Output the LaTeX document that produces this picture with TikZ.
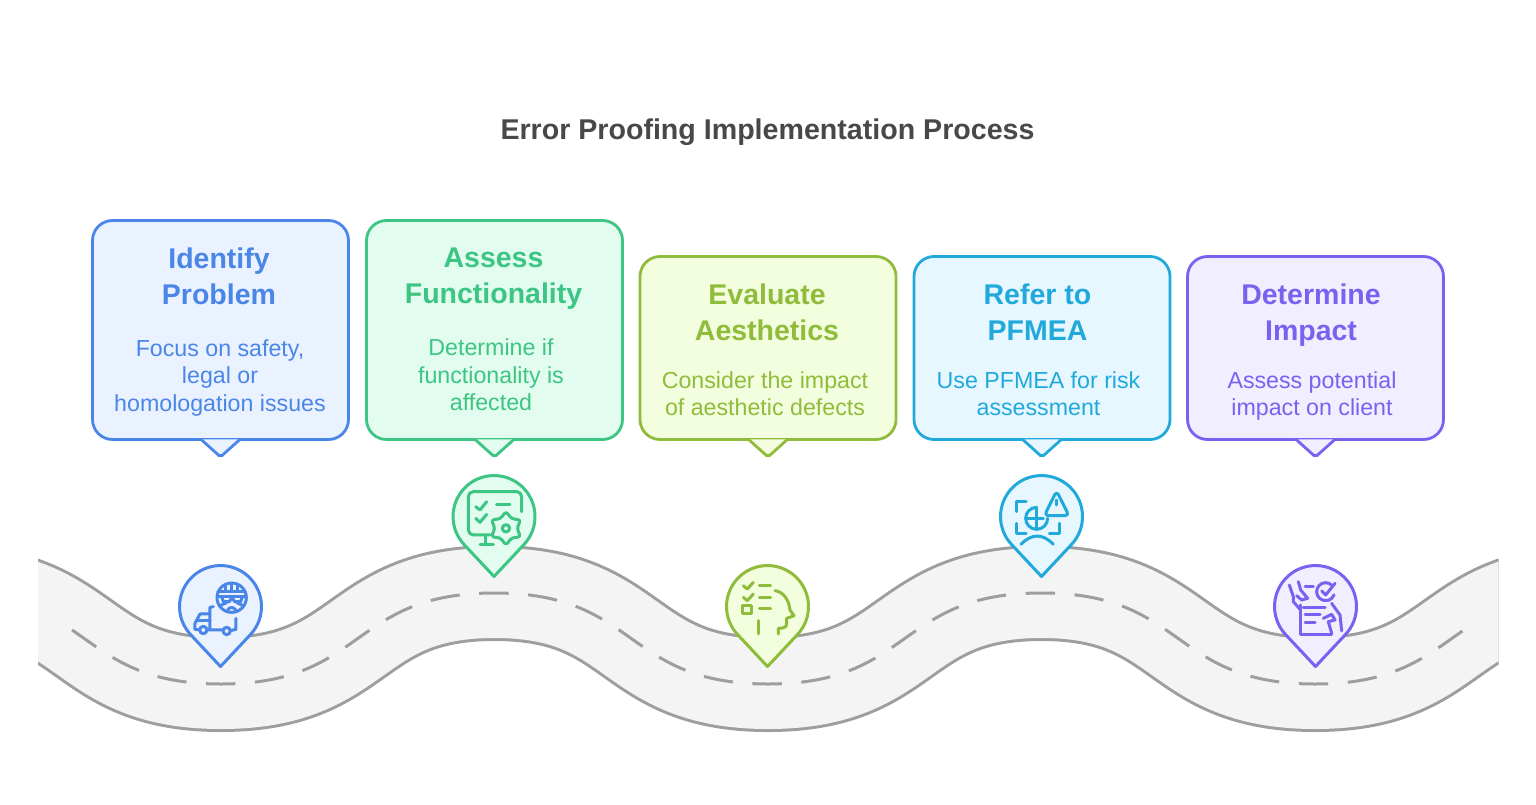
\documentclass[tikz,border=0pt]{standalone}
\usepackage{fontspec}
\usepackage{xcolor}
\usepackage{tikz}
\setmainfont{Liberation Sans}

\definecolor{bluemain}{HTML}{4A86E8}
\definecolor{bluetint}{HTML}{EBF2FF}
\definecolor{greenmain}{HTML}{3CC583}
\definecolor{greentint}{HTML}{E3FCF0}
\definecolor{olivemain}{HTML}{8FBC3B}
\definecolor{olivetint}{HTML}{F3FEDE}
\definecolor{cyanmain}{HTML}{22A9DC}
\definecolor{cyantint}{HTML}{E6F7FF}
\definecolor{purplemain}{HTML}{7B61F0}
\definecolor{purpletint}{HTML}{F0EEFF}
\definecolor{roadline}{HTML}{9E9E9E}
\definecolor{roadfill}{HTML}{F4F4F4}
\definecolor{titlegrey}{HTML}{484848}

\begin{document}
\begin{tikzpicture}
            [x=1pt, y=-1pt,
            card/.style 2 args={draw=#1, fill=#2, line width=2.8pt, rounded corners=20pt,
                minimum width=256pt, inner sep=0pt},
            cardtip/.style 2 args={draw=#1, fill=#2, line width=2.8pt, rounded corners=2pt},
            heading/.style={text=#1, align=center, inner sep=0pt,
                font=\fontsize{28.5}{36}\bfseries\selectfont},
            body/.style={text=#1, align=center, inner sep=0pt,
                font=\fontsize{23.2}{27.5}\selectfont},
            roadpath/.style={insert path={
                (-52.5,593) .. controls +(145,0) and +(-145,0) .. (221,684)
                .. controls +(145,0) and +(-145,0) .. (494.5,593)
                .. controls +(145,0) and +(-145,0) .. (768,684)
                .. controls +(145,0) and +(-145,0) .. (1041.5,593)
                .. controls +(145,0) and +(-145,0) .. (1315,684)
                .. controls +(145,0) and +(-145,0) .. (1588.5,593)}},
            zoomed/.style={x=0.3333pt, y=-0.3333pt, draw=#1, line width=3pt,
                line cap=round, line join=round},
            pin/.pic={\path[pic actions, line width=3pt, line join=round]
                (0,60) -- (30,28) arc[start angle=43, end angle=-223, radius=41] -- cycle;}]

            \useasboundingbox (0,0) rectangle (1536,805);

            \node (title) [text=titlegrey, inner sep=0pt, font=\fontsize{28.6}{34}\bfseries\selectfont]
                at (767.5,132) {Error Proofing Implementation Process};

            \begin{scope}
                \clip (38,500) rectangle (1498.5,760);
                \draw[roadpath, draw=roadline, line width=3pt, double=roadfill, double distance=90pt];
            \end{scope}
            \begin{scope}
                \clip (66,500) rectangle (1470,760);
                \draw[roadpath, draw=roadline, line width=3pt, dash pattern=on 29.4pt off 19.6pt, dash phase=14.7pt];
            \end{scope}

            \node (identify) [card={bluemain}{bluetint}, minimum height=219pt] at (220.5,330) {};
            \filldraw[cardtip={bluemain}{bluetint}] (identify.south) ++(-19.6,-1.6) -- ++(19.6,17.6) -- ++(19.6,-17.6);
            \node (identifyhead) [heading=bluemain] at (219,276.5) {Identify\\Problem};
            \node (identifybody) [body=bluemain] at (220,378) {Focus on safety,\\legal or\\homologation issues};

            \node (assess) [card={greenmain}{greentint}, minimum height=219pt] at (494.5,330) {};
            \filldraw[cardtip={greenmain}{greentint}] (assess.south) ++(-19.6,-1.6) -- ++(19.6,17.6) -- ++(19.6,-17.6);
            \node (assesshead) [heading=greenmain] at (493.5,279) {Assess\\Functionality};
            \node (assessbody) [body=greenmain] at (491,375) {Determine if\\functionality is\\affected};

            \node (evaluate) [card={olivemain}{olivetint}, minimum height=183pt] at (768,348) {};
            \filldraw[cardtip={olivemain}{olivetint}] (evaluate.south) ++(-19.6,-1.6) -- ++(19.6,17.6) -- ++(19.6,-17.6);
            \node (evaluatehead) [heading=olivemain] at (767,312.5) {Evaluate\\Aesthetics};
            \node (evaluatebody) [body=olivemain] at (765,393.5) {Consider the impact\\of aesthetic defects};

            \node (pfmea) [card={cyanmain}{cyantint}, minimum height=183pt] at (1042,348) {};
            \filldraw[cardtip={cyanmain}{cyantint}] (pfmea.south) ++(-19.6,-1.6) -- ++(19.6,17.6) -- ++(19.6,-17.6);
            \node (pfmeahead) [heading=cyanmain] at (1037.5,312.5) {Refer to\\PFMEA};
            \node (pfmeabody) [body=cyanmain] at (1038.5,393.5) {Use PFMEA for risk\\assessment};

            \node (impact) [card={purplemain}{purpletint}, minimum height=183pt] at (1315.5,348) {};
            \filldraw[cardtip={purplemain}{purpletint}] (impact.south) ++(-19.6,-1.6) -- ++(19.6,17.6) -- ++(19.6,-17.6);
            \node (impacthead) [heading=purplemain] at (1311,315.5) {Determine\\Impact};
            \node (impactbody) [body=purplemain] at (1312,396) {Assess potential\\impact on client};

            \pic [draw=bluemain, fill=bluetint] at (220.5,606.5) {pin};
            \pic [draw=greenmain, fill=greentint] at (494,516.5) {pin};
            \pic [draw=olivemain, fill=olivetint] at (767.5,606.5) {pin};
            \pic [draw=cyanmain, fill=cyantint] at (1041.5,516.5) {pin};
            \pic [draw=purplemain, fill=purpletint] at (1315.5,606.5) {pin};

            \begin{scope}[shift={(160,550)}, zoomed=bluemain]
                \draw (215,143) circle[radius=44];
                \draw (174,125) -- (256,125);
                \draw (197,107) -- (197,125) (215,102) -- (215,125) (233,107) -- (233,125);
                \draw (172,140) -- (258,140);
                \draw (185,140) -- (190,155) -- (208,155) -- (213,147) -- (219,147) -- (224,155) -- (242,155) -- (247,140);
                \draw (178,168) -- (200,158) (252,168) -- (230,158);
                \draw (203,180) .. controls (208,170) and (222,170) .. (227,180);
                \draw (160,170) -- (150,172) -- (150,240);
                \draw (119,240) -- (105,238) -- (105,220) -- (120,192) -- (150,192);
                \draw (113,213) -- (150,213);
                \draw (130,240) circle[radius=11] (200,243) circle[radius=11];
                \draw (141,240) -- (189,240) (211,242) -- (228,238) -- (228,205);
            \end{scope}

            \begin{scope}[shift={(440,465)}, zoomed=greenmain]
                \draw[rounded corners=5pt] (150,210) -- (85,210) -- (85,80) -- (245,80) -- (245,140);
                \draw (135,210) -- (135,238) (120,238) -- (160,238);
                \draw (107,125) -- (120,135) -- (140,110);
                \draw (107,160) -- (120,172) -- (140,148);
                \draw (170,118) -- (210,118);
                \draw[shift={(198,190)}, rounded corners=3pt] (90:51) -- (120:33) -- (150:51) -- (180:33) -- (210:51) -- (240:33) -- (270:51) -- (300:33) -- (330:51) -- (0:33) -- (30:51) -- (60:33) -- cycle;
                \draw (198,190) circle[radius=11];
            \end{scope}

            \begin{scope}[shift={(715,555)}, zoomed=olivemain]
                \draw (85,92) -- (97,102) -- (115,82);
                \draw (85,127) -- (97,137) -- (115,117);
                \draw (83,150) rectangle (108,175);
                \draw (133,92) -- (167,92) (133,127) -- (167,127) (133,162) -- (167,162);
                \draw (130,197) -- (130,237);
                \draw (180,107) .. controls (205,110) and (222,135) .. (225,165) -- (237,182) -- (215,190) -- (215,205) .. controls (215,218) and (205,220) .. (190,220) -- (190,237);
            \end{scope}

            \begin{scope}[shift={(990,465)}, zoomed=cyanmain]
                \draw (108,108) -- (78,108) -- (78,140);
                \draw (78,175) -- (78,205) -- (108,205);
                \draw (178,205) -- (207,205) -- (207,175);
                \draw (140,127) arc[start angle=-90, end angle=-270, radius=33] arc[start angle=90, end angle=0, radius=33];
                \draw (140,127) -- (140,193) (107,160) -- (160,160);
                \draw[rounded corners=4pt] (200,78) -- (163,152) -- (237,152) -- cycle;
                \draw (200,105) -- (200,120);
                \draw (93,238) .. controls (125,205) and (158,205) .. (190,238);
            \end{scope}

            \begin{scope}[shift={(1260,555)}, zoomed=purplemain]
                \draw (122,150) -- (122,238) -- (215,238);
                \draw (130,158) -- (195,158);
                \draw (135,180) -- (180,180) (135,203) -- (165,203);
                \draw (135,93) -- (160,93);
                \draw (215,90) arc[start angle=-48, end angle=-340, radius=27];
                \draw (185,108) -- (197,120) -- (225,85);
                \draw (88,90) -- (100,125) -- (100,140) -- (122,165);
                \draw (115,80) -- (122,105) -- (143,130) -- (125,135) -- (110,122);
                \draw (215,145) -- (240,180) -- (245,228);
                \draw (190,190) -- (215,178) -- (225,195) -- (205,200) -- (215,235);
            \end{scope}
        \end{tikzpicture}
\end{document}
